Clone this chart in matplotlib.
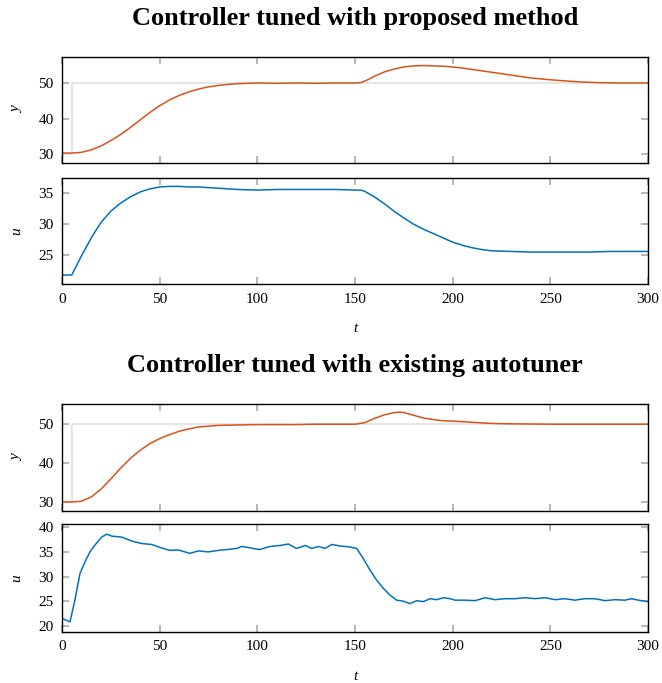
import matplotlib
matplotlib.use("Agg")
import matplotlib.pyplot as plt
import numpy as np

plt.rcParams['font.family'] = ['Liberation Serif', 'DejaVu Serif']

# setpoint (step at t=5)
t_sp = [0, 5, 5, 300]
r_sp = [30, 30, 50, 50]

# proposed method: output y
t_y1 = [0, 5, 10, 15, 20, 25, 30, 35, 40, 45, 50, 55, 60, 65, 70, 75, 80, 85, 90, 95,
        100, 110, 120, 130, 140, 150, 153, 157, 160, 165, 170, 175, 180, 185, 190, 195,
        200, 205, 210, 215, 220, 225, 230, 235, 240, 250, 257, 265, 274, 285, 300]
y1 = [30.3, 30.3, 30.5, 31.2, 32.3, 33.8, 35.5, 37.5, 39.6, 41.7, 43.6, 45.2, 46.5, 47.5,
      48.3, 48.9, 49.3, 49.6, 49.8, 49.9, 50.0, 49.9, 50.0, 49.9, 50.0, 50.0, 50.1, 51.0,
      51.9, 53.1, 53.9, 54.5, 54.8, 54.9, 54.8, 54.7, 54.5, 54.2, 53.8, 53.4, 53.0, 52.6,
      52.2, 51.8, 51.4, 50.9, 50.6, 50.3, 50.1, 50.0, 50.0]

# proposed method: control u
t_u1 = [0, 5, 10, 15, 20, 25, 30, 35, 40, 45, 50, 55, 60, 65, 70, 80, 90, 100, 110, 120,
        130, 140, 150, 153, 155, 160, 165, 170, 175, 180, 185, 190, 195, 200, 205, 210,
        215, 220, 230, 240, 250, 260, 270, 280, 290, 300]
u1 = [21.7, 21.7, 24.8, 27.7, 30.2, 32.0, 33.3, 34.3, 35.1, 35.6, 35.9, 36.0, 36.0, 35.9,
      35.9, 35.7, 35.5, 35.4, 35.5, 35.5, 35.5, 35.5, 35.4, 35.4, 35.2, 34.3, 33.2, 32.0,
      30.9, 29.9, 29.1, 28.4, 27.7, 27.0, 26.5, 26.1, 25.8, 25.6, 25.5, 25.4, 25.4, 25.4,
      25.4, 25.5, 25.5, 25.5]

# existing autotuner: output y
t_y2 = [0, 5, 10, 15, 20, 25, 30, 35, 40, 45, 50, 55, 60, 65, 70, 75, 80, 90, 100, 110,
        120, 130, 140, 150, 155, 160, 165, 170, 173, 175, 180, 185, 190, 195, 200, 210,
        220, 230, 250, 300]
y2 = [30.0, 30.0, 30.2, 31.3, 33.3, 35.9, 38.7, 41.2, 43.3, 45.0, 46.3, 47.3, 48.2, 48.8,
      49.3, 49.5, 49.7, 49.8, 49.9, 49.9, 49.9, 50.0, 50.0, 50.0, 50.4, 51.5, 52.4, 53.0,
      53.1, 53.0, 52.3, 51.6, 51.2, 50.9, 50.8, 50.5, 50.2, 50.1, 50.0, 50.0]

# existing autotuner: control u
t_u2 = [0, 4.1, 6.6, 9.2, 11.8, 14.3, 16.9, 20.3, 22.9, 25.5, 30.6, 35.7, 40.8, 45.9, 51,
        55.3, 59.5, 65.5, 69.8, 74.9, 80, 85.1, 89.4, 92, 95.4, 99, 101.4, 106.5, 111.6,
        115.9, 120, 124.6, 127.8, 131.3, 134.7, 138.1, 142.3, 147.5, 150.9, 154.3, 157.7,
        161, 164.5, 168, 171.3, 174.7, 178.2, 181.6, 185, 188.4, 191.8, 195.3, 198.7,
        201.2, 206.3, 211.5, 216.6, 221.7, 226.8, 231.9, 237, 242.2, 247.3, 252.4, 257.5,
        262.6, 267.7, 272.8, 278, 283.1, 288.2, 291.6, 295, 300]
u2 = [21.5, 20.8, 25.2, 30.6, 33.0, 35.0, 36.4, 38.0, 38.6, 38.2, 38.0, 37.2, 36.7, 36.5,
      35.8, 35.3, 35.4, 34.7, 35.2, 35.0, 35.3, 35.5, 35.7, 36.1, 35.9, 35.6, 35.5, 36.1,
      36.3, 36.6, 35.7, 36.3, 35.7, 36.1, 35.7, 36.5, 36.2, 36.0, 35.7, 33.6, 31.3, 29.3,
      27.6, 26.2, 25.2, 25.0, 24.5, 25.1, 24.9, 25.5, 25.3, 25.7, 25.5, 25.2, 25.2, 25.1,
      25.7, 25.3, 25.5, 25.5, 25.7, 25.5, 25.7, 25.3, 25.5, 25.2, 25.5, 25.5, 25.1, 25.3,
      25.2, 25.5, 25.2, 24.9]

c_y = '#D95319'
c_u = '#0072BD'
c_sp = '#e0e0e0'

fig = plt.figure(figsize=(6.62, 6.83), dpi=100)
W, H = 662.0, 683.0

def make_ax(top, bottom):
    ax = fig.add_axes([62 / W, (H - bottom) / H, 586 / W, (bottom - top) / H])
    ax.set_xlim(0, 300)
    ax.set_xticks([0, 50, 100, 150, 200, 250, 300])
    ax.tick_params(direction='in', top=True, right=True, length=5, width=1.2,
                   color='#aaaaaa', labelsize=11, pad=6)
    for s in ax.spines.values():
        s.set_linewidth(1.0)
    return ax

ax1 = make_ax(57, 163)
ax1.plot(t_sp, r_sp, color=c_sp, lw=1.2)
ax1.plot(t_y1, y1, color=c_y, lw=1.1)
ax1.set_ylim(27.5, 57.3)
ax1.set_yticks([30, 40, 50])
ax1.set_xticklabels([])
ax1.set_ylabel('y', fontstyle='italic', fontsize=11, labelpad=11)

ax2 = make_ax(177.7, 284.3)
ax2.plot(t_u1, u1, color=c_u, lw=1.1)
ax2.set_ylim(20.2, 37.4)
ax2.set_yticks([25, 30, 35])
ax2.set_ylabel('u', fontstyle='italic', fontsize=11, labelpad=11)
ax2.set_xlabel('t', fontstyle='italic', fontsize=11, labelpad=12)

ax3 = make_ax(404, 511.3)
ax3.plot(t_sp, r_sp, color=c_sp, lw=1.2)
ax3.plot(t_y2, y2, color=c_y, lw=1.1)
ax3.set_ylim(27.6, 55.2)
ax3.set_yticks([30, 40, 50])
ax3.set_xticklabels([])
ax3.set_ylabel('y', fontstyle='italic', fontsize=11, labelpad=11)

ax4 = make_ax(524.3, 631.7)
ax4.plot(t_u2, u2, color=c_u, lw=1.1)
ax4.set_ylim(18.8, 40.6)
ax4.set_yticks([20, 25, 30, 35, 40])
ax4.set_ylabel('u', fontstyle='italic', fontsize=11, labelpad=11)
ax4.set_xlabel('t', fontstyle='italic', fontsize=11, labelpad=12)

fig.text(355 / W, 1 - 18 / H, 'Controller tuned with proposed method',
         ha='center', va='center', fontsize=19, fontweight='bold')
fig.text(355 / W, 1 - 365 / H, 'Controller tuned with existing autotuner',
         ha='center', va='center', fontsize=19, fontweight='bold')

fig.savefig('out.png', dpi=100)
